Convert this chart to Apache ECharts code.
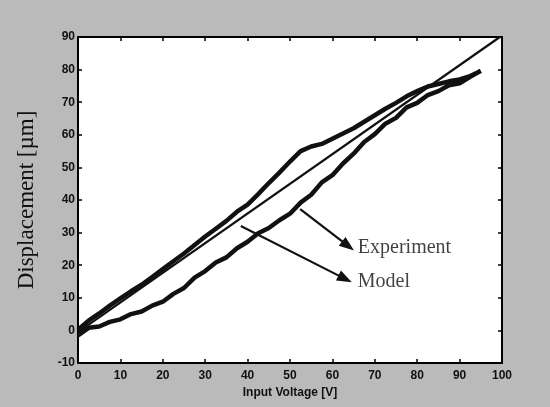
<!DOCTYPE html>
<html><head><meta charset="utf-8">
<script src="https://cdn.jsdelivr.net/npm/echarts@6/dist/echarts.min.js"></script>
<style>html,body{margin:0;padding:0;background:#bababa;}#c{width:550px;height:407px;}</style>
</head><body><div id="c"></div>
<script>
// Voltage samples (V)
const voltX = [0,2.5,5,7.5,10,12.5,15,17.5,20,22.5,25,27.5,30,32.5,35,37.5,40,42.5,45,47.5,50,52.5,55,57.5,60,62.5,65,67.5,70,72.5,75,77.5,80,82.5,85,87.5,90,92.5,95];
// Experiment, rising voltage (lower branch), µm
const expUp = [-1.5,0.8,1.2,2.6,3.4,5.0,5.8,7.6,8.8,11.2,13.0,16.2,18.2,20.8,22.4,25.2,27.2,29.8,31.4,33.8,35.8,39.2,41.6,45.4,47.6,51.2,54.2,57.8,60.2,63.4,65.2,68.4,69.8,72.2,73.4,75.2,75.8,77.8,79.6];
// Experiment, falling voltage (upper branch), same voltX order, µm
const expDown = [0.2,3.0,5.2,7.6,9.8,12.0,14.0,16.4,18.8,21.2,23.6,26.2,28.8,31.2,33.6,36.4,38.6,41.8,45.2,48.4,51.8,55.0,56.4,57.2,58.8,60.4,62.0,64.0,66.0,68.0,69.8,71.8,73.4,74.8,75.6,76.4,77.0,78.0,79.0];
// Model (straight line)
const modelX = [0, 99.5];
const modelY = [-0.5, 90];
// Annotations
const annoText = ['Experiment', 'Model'];
const annoTextPos = [[66, 25.3], [66, 14.8]];
const arrowFrom = [[52.4, 37.2], [38.4, 32.0]];
const arrowTo = [[63.7, 25.9], [63.0, 15.8]];
const xTicks = [0,10,20,30,40,50,60,70,80,90,100];
const yTicks = [-10,0,10,20,30,40,50,60,70,80,90];

const expData = voltX.map((v,i)=>[v, expUp[i]]);
for (let i = voltX.length-1; i >= 0; i--) expData.push([voltX[i], expDown[i]]);
const modelData = modelX.map((v,i)=>[v, modelY[i]]);

const tickLabel = {fontFamily:'Liberation Sans', fontWeight:'bold', fontSize:12, color:'#111'};
const axLine = {show:true, onZero:false, lineStyle:{color:'#000', width:2}};
const axTick = {show:true, inside:true, length:4, lineStyle:{color:'#000', width:1.5}};

const chart = echarts.init(document.getElementById('c'), null, {renderer:'canvas'});
chart.setOption({
  backgroundColor:'#bababa',
  animation:false,
  grid:{left:78, right:48, top:37, bottom:44, show:true, backgroundColor:'#ffffff', borderWidth:0},
  xAxis:[{
    type:'value', min:0, max:100, interval:10, position:'bottom',
    axisLine:axLine, axisTick:axTick, splitLine:{show:false},
    axisLabel:Object.assign({margin:7}, tickLabel),
    name:'Input Voltage [V]', nameLocation:'middle', nameGap:24,
    nameTextStyle:{fontFamily:'Liberation Sans', fontWeight:'bold', fontSize:12, color:'#111'}
  },{
    type:'value', min:0, max:100, interval:10, position:'top',
    axisLine:axLine, axisTick:axTick, splitLine:{show:false}, axisLabel:{show:false}
  }],
  yAxis:[{
    type:'value', min:-10, max:90, interval:10, position:'left',
    axisLine:axLine, axisTick:axTick, splitLine:{show:false},
    axisLabel:Object.assign({margin:3}, tickLabel),
    name:'Displacement [µm]', nameLocation:'middle', nameGap:40, nameRotate:90,
    nameTextStyle:{fontFamily:'Liberation Serif', fontSize:23, color:'#111'}
  },{
    type:'value', min:-10, max:90, interval:10, position:'right',
    axisLine:axLine, axisTick:axTick, splitLine:{show:false}, axisLabel:{show:false}
  }],
  series:[
    {type:'line', data:expData, showSymbol:false, symbol:'none',
     lineStyle:{color:'#111', width:4.5}, clip:true, z:3},
    {type:'line', data:modelData, showSymbol:false, symbol:'none',
     lineStyle:{color:'#111', width:2.2}, clip:true, z:4,
     markLine:{
       silent:true, symbol:['none','triangle'], symbolSize:[11,15],
       lineStyle:{color:'#111', width:2.2, type:'solid'},
       label:{show:false},
       data: arrowFrom.map((p,i)=>[{coord:p},{coord:arrowTo[i]}])
     }},
    {type:'scatter', symbolSize:0, data:annoTextPos.map((p,i)=>({value:p, name:annoText[i]})),
     label:{show:true, position:'right', distance:0, formatter:p=>p.name,
       fontFamily:'Liberation Serif', fontSize:20, color:'#111', align:'left', verticalAlign:'middle'}}
  ]
});
</script></body></html>
